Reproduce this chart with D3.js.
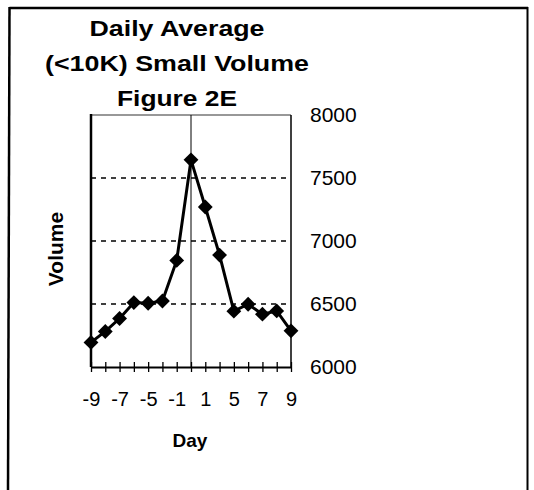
<!DOCTYPE html>
<html>
<head>
<meta charset="utf-8">
<script src="https://cdn.jsdelivr.net/npm/d3@7"></script>
<style>
  body { margin: 0; background: #fff; }
  svg { display: block; font-family: "Liberation Sans", Arial, sans-serif; }
</style>
</head>
<body>
<div id="wrapper"></div>
<script>
// categories on the x axis (only every other one gets a label)
const days = [-9, -8, -7, -6, -5, -3, -1, 0, 1, 3, 5, 6, 7, 8, 9];
const volume = [6195, 6282, 6385, 6511, 6506, 6524, 6846, 7644, 7270, 6888, 6443, 6498, 6419, 6445, 6287];
const yTicks = [6000, 6500, 7000, 7500, 8000];
const gridValues = [6500, 7000, 7500];
const titleLines = ["Daily Average", "(<10K) Small Volume", "Figure 2E"];

let wSvg = 534;
let hSvg = 490;

let plotLeft = 91;
let plotRight = 291;
let plotTop = 115;
let plotBottom = 367;

let svg = d3.select("#wrapper")
    .append("svg")
    .attr("width", wSvg)
    .attr("height", hSvg);

// outer frame (bottom edge is cut off)
svg.append("line")
    .attr("x1", 9.5).attr("y1", 8).attr("x2", 528).attr("y2", 8)
    .attr("stroke", "#000").attr("stroke-width", 2.5);
svg.append("line")
    .attr("x1", 9.5).attr("y1", 7).attr("x2", 8).attr("y2", hSvg)
    .attr("stroke", "#000").attr("stroke-width", 2.5);
svg.append("line")
    .attr("x1", 527.5).attr("y1", 7).attr("x2", 527.5).attr("y2", hSvg)
    .attr("stroke", "#000").attr("stroke-width", 2);

let xScale = d3.scalePoint()
    .domain(days)
    .range([plotLeft, plotRight]);

let yScale = d3.scaleLinear()
    .domain([6000, 8000])
    .range([plotBottom, plotTop]);

// title
let titleWidths = [175, 264, 120];
svg.append("g")
    .selectAll("text")
    .data(titleLines)
    .enter()
    .append("text")
    .attr("x", 177)
    .attr("y", (d, i) => 36 + i * 35)
    .attr("text-anchor", "middle")
    .attr("font-weight", "bold")
    .attr("font-size", 22)
    .attr("textLength", (d, i) => titleWidths[i])
    .attr("lengthAdjust", "spacingAndGlyphs")
    .text(d => d);

// dashed gridlines
svg.append("g")
    .selectAll("line")
    .data(gridValues)
    .enter()
    .append("line")
    .attr("x1", plotLeft)
    .attr("x2", plotRight)
    .attr("y1", d => yScale(d))
    .attr("y2", d => yScale(d))
    .attr("stroke", "#000")
    .attr("stroke-width", 1.4)
    .attr("stroke-dasharray", "5,5");

// plot area border
svg.append("line")
    .attr("x1", plotLeft).attr("x2", plotRight)
    .attr("y1", plotTop).attr("y2", plotTop)
    .attr("stroke", "#333").attr("stroke-width", 1.2);
svg.append("line")
    .attr("x1", plotRight).attr("x2", plotRight)
    .attr("y1", plotTop).attr("y2", plotBottom)
    .attr("stroke", "#000").attr("stroke-width", 1.5);
svg.append("line")
    .attr("x1", plotLeft).attr("x2", plotLeft)
    .attr("y1", plotTop - 1).attr("y2", plotBottom)
    .attr("stroke", "#000").attr("stroke-width", 2.5);

// vertical line at day 0
svg.append("line")
    .attr("x1", xScale(0)).attr("x2", xScale(0))
    .attr("y1", plotTop).attr("y2", plotBottom)
    .attr("stroke", "#000").attr("stroke-width", 1);

// x axis with cross ticks
let xAxis = svg.append("g")
    .attr("transform", `translate(0,${plotBottom})`)
    .call(d3.axisBottom(xScale)
        .tickSize(5)
        .tickSizeOuter(0)
        .tickFormat((d, i) => (i % 2 === 0 ? d : "")));

xAxis.select(".domain").attr("stroke-width", 2);
xAxis.selectAll(".tick line").attr("y1", -5).attr("stroke-width", 1.3);
xAxis.selectAll(".tick text")
    .attr("y", 39)
    .attr("dy", null)
    .attr("font-size", 20)
    .attr("font-family", "Liberation Sans, Arial, sans-serif")
    .attr("fill", "#000");

// right value axis (labels only)
let yAxis = svg.append("g")
    .attr("transform", `translate(${plotRight},0)`)
    .call(d3.axisRight(yScale)
        .tickValues(yTicks)
        .tickSize(0)
        .tickPadding(19)
        .tickFormat(d3.format("d")));

yAxis.select(".domain").remove();
yAxis.selectAll(".tick text")
    .attr("font-size", 21)
    .attr("font-family", "Liberation Sans, Arial, sans-serif")
    .attr("fill", "#000");

// data line
let line = d3.line()
    .x((d, i) => xScale(days[i]))
    .y(d => yScale(d));

svg.append("path")
    .datum(volume)
    .attr("d", line)
    .attr("fill", "none")
    .attr("stroke", "#000")
    .attr("stroke-width", 3);

// diamond markers
let diamond = d3.symbol().type(d3.symbolSquare).size(110);
svg.append("g")
    .selectAll("path")
    .data(volume)
    .enter()
    .append("path")
    .attr("d", diamond)
    .attr("transform", (d, i) => `translate(${xScale(days[i])},${yScale(d)}) rotate(45)`)
    .attr("fill", "#000");

// axis titles
svg.append("text")
    .attr("transform", "translate(63,249) rotate(-90)")
    .attr("text-anchor", "middle")
    .attr("font-weight", "bold")
    .attr("font-size", 21)
    .text("Volume");

svg.append("text")
    .attr("x", 190)
    .attr("y", 447)
    .attr("text-anchor", "middle")
    .attr("font-weight", "bold")
    .attr("font-size", 19)
    .text("Day");
</script>
</body>
</html>
